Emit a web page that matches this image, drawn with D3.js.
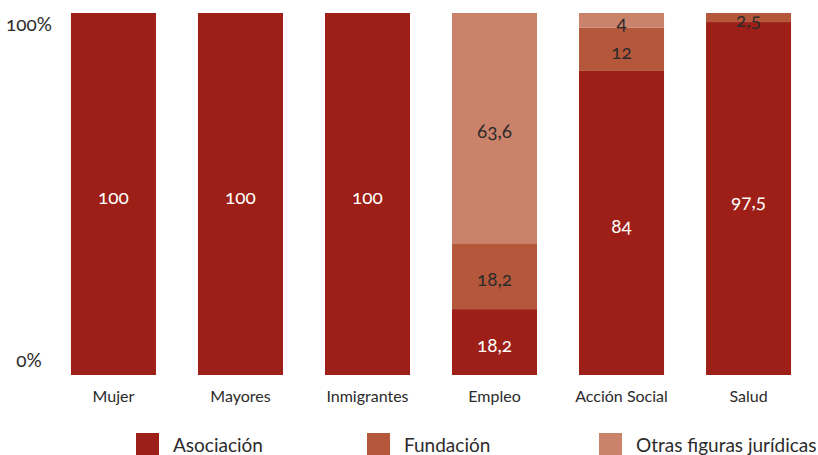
<!DOCTYPE html>
<html>
<head>
<meta charset="utf-8">
<script src="https://cdn.jsdelivr.net/npm/d3@7"></script>
<style>
  html, body { margin: 0; padding: 0; background: #fff; }
  svg { display: block; }
  text { font-family: Lato, "Open Sans", sans-serif; font-variant-numeric: oldstyle-nums; font-feature-settings: "onum" 1; }
</style>
</head>
<body>
<svg id="chart" width="818" height="455"></svg>
<script>
const categories = ["Mujer", "Mayores", "Inmigrantes", "Empleo", "Acción Social", "Salud"];
const asociacion = [100, 100, 100, 18.2, 84, 97.5];
const fundacion  = [0, 0, 0, 18.2, 12, 2.5];
const otras      = [0, 0, 0, 63.6, 4, 0];
const seriesNames = ["Asociación", "Fundación", "Otras figuras jurídicas"];
const colors = ["#9d1f17", "#b5573a", "#cb826a"];
const labelColors = ["#ffffff", "#2b2b2b", "#2b2b2b"];
const yTicks = [0, 100];
const yTickLabels = ["0%", "100%"];

const svg = d3.select("#chart");

const table = categories.map((c, i) => ({
  cat: c, "Asociación": asociacion[i], "Fundación": fundacion[i], "Otras figuras jurídicas": otras[i]
}));
const stacked = d3.stack().keys(seriesNames)(table);

const x = d3.scaleBand().domain(categories).range([50, 812])
  .paddingInner(42 / 127).paddingOuter(21 / 127 / (1 - 42/127) * 0 + 0.165);
const y = d3.scaleLinear().domain([0, 100]).range([375, 13]);

const fmt = v => String(v).replace(".", ",");

stacked.forEach((layer, si) => {
  const g = svg.append("g");
  g.selectAll("rect").data(layer.filter(d => d[1] - d[0] > 0)).enter().append("rect")
    .attr("x", d => x(d.data.cat))
    .attr("width", x.bandwidth())
    .attr("y", d => y(d[1]))
    .attr("height", d => y(d[0]) - y(d[1]))
    .attr("fill", colors[si]);
  g.selectAll("text").data(layer.filter(d => d[1] - d[0] > 0)).enter().append("text")
    .attr("x", d => x(d.data.cat) + x.bandwidth() / 2)
    .attr("y", d => (y(d[0]) + y(d[1])) / 2 + 3)
    .attr("dy", "0.35em")
    .attr("text-anchor", "middle")
    .attr("font-size", 19)
    .attr("fill", labelColors[si])
    .text(d => fmt(d[1] - d[0]));
});

// y labels
svg.append("g").selectAll("text").data(yTicks).enter().append("text")
  .attr("x", 29)
  .attr("y", d => d === 100 ? y(d) + 18 : y(d) - 8)
  .attr("text-anchor", "middle")
  .attr("font-size", 19)
  .attr("fill", "#2b2b2b")
  .text((d, i) => yTickLabels[i]);

// x labels
svg.append("g").selectAll("text").data(categories).enter().append("text")
  .attr("x", d => x(d) + x.bandwidth() / 2)
  .attr("y", 402)
  .attr("text-anchor", "middle")
  .attr("font-size", 16)
  .attr("fill", "#2b2b2b")
  .text(d => d);

// legend
const legendX = [136, 367, 599];
const lg = svg.append("g");
seriesNames.forEach((n, i) => {
  lg.append("rect").attr("x", legendX[i]).attr("y", 433).attr("width", 23).attr("height", 23).attr("fill", colors[i]);
  lg.append("text").attr("x", legendX[i] + 37).attr("y", 445).attr("dy", "0.35em")
    .attr("font-size", 19).attr("fill", "#2b2b2b").text(n);
});
</script>
</body>
</html>
